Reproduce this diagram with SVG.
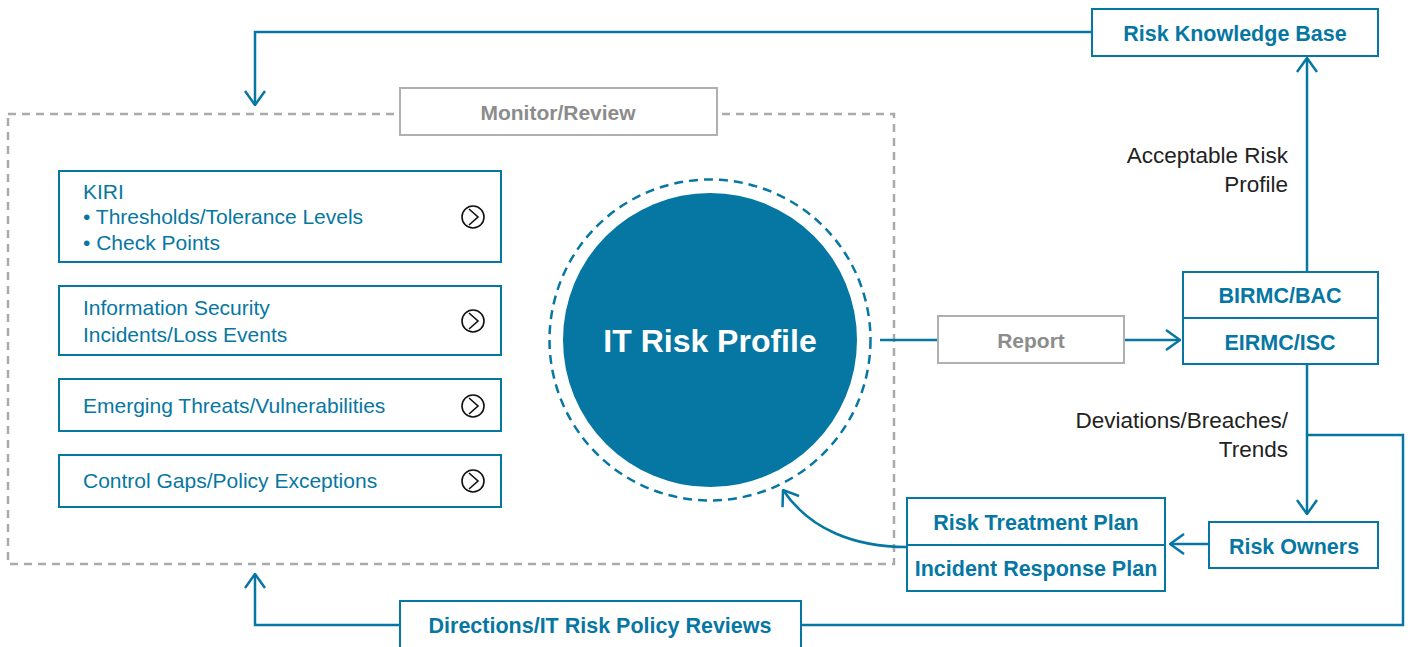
<svg xmlns="http://www.w3.org/2000/svg" width="1408" height="647" viewBox="0 0 1408 647">
<style>
.bx{fill:#fff;stroke:#0677a3;stroke-width:2}
.gbx{fill:#fff;stroke:#b0b0b0;stroke-width:2}
.ln{fill:none;stroke:#0677a3;stroke-width:2.5}
.t{font-family:"Liberation Sans",Arial,sans-serif;font-size:21px;fill:#0677a3}
.b{font-family:"Liberation Sans",Arial,sans-serif;font-size:21.5px;font-weight:bold;fill:#0677a3;text-anchor:middle}
.g{font-family:"Liberation Sans",Arial,sans-serif;font-size:21px;font-weight:bold;fill:#8c8c8c;text-anchor:middle}
.l{font-family:"Liberation Sans",Arial,sans-serif;font-size:22.5px;fill:#222;text-anchor:end}
.ic{fill:none;stroke:#111;stroke-width:1.6}
</style>
<defs>
<marker id="ah" viewBox="0 0 16 22" refX="15" refY="11" markerWidth="16" markerHeight="22" markerUnits="userSpaceOnUse" orient="auto">
<path d="M1,1 L15,11 L1,21" fill="none" stroke="#0677a3" stroke-width="2.5"/>
</marker>
<g id="icon">
<circle cx="0" cy="0" r="11" class="ic"/>
<path d="M-4,-8 L5,0 L-4,8" class="ic"/>
</g>
</defs>
<rect width="1408" height="647" fill="#fff"/>

<g id="monitor-region">
<rect x="8" y="114" width="886" height="450" fill="none" stroke="#aaaaaa" stroke-width="2.5" stroke-dasharray="8 6"/>
</g>

<g id="connectors">
<path class="ln" d="M1092,32 H255 V105" marker-end="url(#ah)"/>
<path class="ln" d="M1307,272 V58" marker-end="url(#ah)"/>
<path class="ln" d="M880,340 H938"/>
<path class="ln" d="M1124,340 H1180" marker-end="url(#ah)"/>
<path class="ln" d="M1307,364 V514" marker-end="url(#ah)"/>
<path class="ln" d="M1307,435 H1403 V625 H801"/>
<path class="ln" d="M400,625 H255 V574" marker-end="url(#ah)"/>
<path class="ln" d="M1209,544 H1170" marker-end="url(#ah)"/>
<path class="ln" d="M907,547 C855,547 810,530 783,490" marker-end="url(#ah)"/>
</g>

<g id="monitor-review">
<rect class="gbx" x="400" y="88" width="317" height="47"/>
<text class="g" x="558" y="120">Monitor/Review</text>
</g>

<g id="kiri">
<rect class="bx" x="59" y="171" width="442" height="91"/>
<text class="t" x="83" y="199">KIRI</text>
<text class="t" x="83" y="224">• Thresholds/Tolerance Levels</text>
<text class="t" x="83" y="250">• Check Points</text>
<use href="#icon" x="473" y="217"/>
</g>

<g id="infosec">
<rect class="bx" x="59" y="286" width="442" height="69"/>
<text class="t" x="83" y="315">Information Security</text>
<text class="t" x="83" y="342">Incidents/Loss Events</text>
<use href="#icon" x="473" y="321"/>
</g>

<g id="threats">
<rect class="bx" x="59" y="379" width="442" height="52"/>
<text class="t" x="83" y="413">Emerging Threats/Vulnerabilities</text>
<use href="#icon" x="473" y="406"/>
</g>

<g id="gaps">
<rect class="bx" x="59" y="455" width="442" height="52"/>
<text class="t" x="83" y="488">Control Gaps/Policy Exceptions</text>
<use href="#icon" x="473" y="481"/>
</g>

<g id="it-risk-profile">
<circle cx="710" cy="340" r="160.5" fill="none" stroke="#0677a3" stroke-width="2.5" stroke-dasharray="9 6"/>
<circle cx="710" cy="340" r="147" fill="#0677a3"/>
<text x="710" y="352" text-anchor="middle" font-family="'Liberation Sans',Arial,sans-serif" font-size="32" font-weight="bold" fill="#fff">IT Risk Profile</text>
</g>

<g id="report">
<rect class="gbx" x="938" y="316" width="186" height="47"/>
<text class="g" x="1031" y="348">Report</text>
</g>

<g id="risk-knowledge-base">
<rect class="bx" x="1092" y="9" width="286" height="47"/>
<text class="b" x="1235" y="41">Risk Knowledge Base</text>
</g>

<g id="acceptable-label">
<text class="l" x="1288" y="163">Acceptable Risk</text>
<text class="l" x="1288" y="192">Profile</text>
</g>

<g id="birmc">
<rect class="bx" x="1183" y="272" width="195" height="92"/>
<line x1="1183" y1="318" x2="1378" y2="318" stroke="#0677a3" stroke-width="2"/>
<text class="b" x="1280" y="303">BIRMC/BAC</text>
<text class="b" x="1280" y="350">EIRMC/ISC</text>
</g>

<g id="deviations-label">
<text class="l" x="1288" y="428">Deviations/Breaches/</text>
<text class="l" x="1288" y="457">Trends</text>
</g>

<g id="risk-owners">
<rect class="bx" x="1209" y="522" width="169" height="46"/>
<text class="b" x="1294" y="554">Risk Owners</text>
</g>

<g id="plans">
<rect class="bx" x="907" y="498" width="258" height="93"/>
<line x1="907" y1="545" x2="1165" y2="545" stroke="#0677a3" stroke-width="2"/>
<text class="b" x="1036" y="530">Risk Treatment Plan</text>
<text class="b" x="1036" y="576">Incident Response Plan</text>
</g>

<g id="directions">
<rect class="bx" x="400" y="601" width="401" height="52"/>
<text class="b" x="600" y="633">Directions/IT Risk Policy Reviews</text>
</g>
</svg>
